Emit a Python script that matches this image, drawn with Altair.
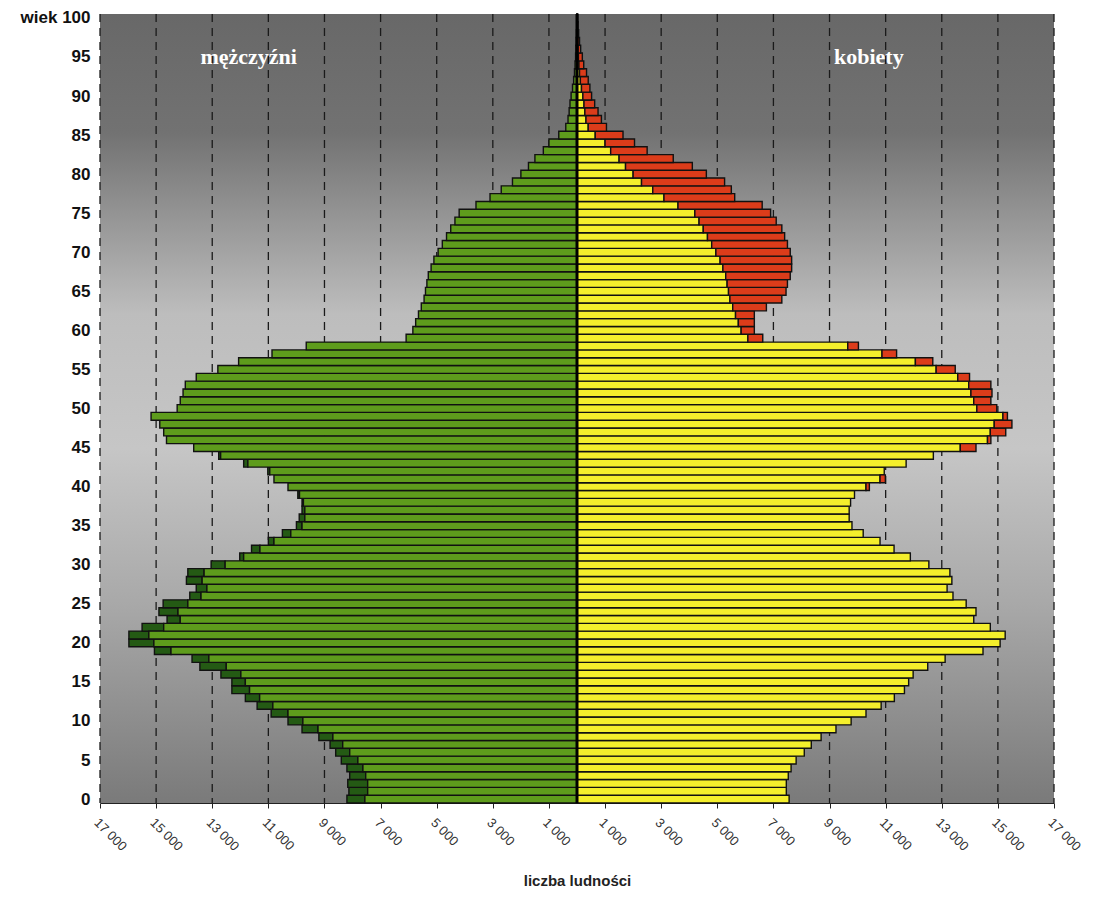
import altair as alt
import pandas as pd

ages = list(range(101))

men = [
    8200, 8130, 8170, 8100, 8200, 8400, 8600, 8800, 9200, 9800,
    10300, 10900, 11400, 11820, 12300, 12300, 12690, 13440, 13720, 15060,
    15970, 15970, 15500, 14610, 14900, 14750, 13800, 13570, 13920, 13870,
    13040, 12020, 11600, 11000, 10500, 10000, 9900, 9800, 9800, 9950,
    10300, 10800, 11020, 11880, 12770, 13660, 14630, 14730, 14870, 15180,
    14250, 14140, 14040, 13960, 13570, 12800, 12060, 10870, 9650, 6090,
    5850, 5750, 5650, 5550, 5450, 5400, 5350, 5300, 5200, 5100,
    4950, 4800, 4650, 4500, 4350, 4200, 3600, 3100, 2700, 2300,
    2000, 1730, 1500, 1200, 1000, 650, 400, 320, 280, 250,
    210, 160, 120, 90, 70, 50, 40, 30, 20, 10, 10,
]

women = [
    7560, 7460, 7460, 7530, 7630, 7810, 8100, 8350, 8700, 9230,
    9770, 10300, 10840, 11310, 11670, 11820, 11980, 12500, 13120, 14470,
    15080, 15260, 14730, 14140, 14220, 13870, 13400, 13190, 13360, 13290,
    12540, 11880, 11300, 10800, 10200, 9800, 9700, 9700, 9750, 9890,
    10420, 10990, 10950, 11730, 12700, 14220, 14750, 15280, 15500, 15340,
    14960, 14750, 14790, 14750, 13990, 13480, 12680, 11390, 10030, 6620,
    6320, 6320, 6320, 6750, 7300, 7450, 7500, 7600, 7650, 7650,
    7600, 7500, 7400, 7300, 7100, 6900, 6600, 5620, 5500, 5260,
    4610, 4110, 3430, 2500, 2050, 1640, 1050, 870, 750, 630,
    520, 460, 400, 340, 240, 190, 130, 90, 60, 40, 30,
]

tick_values = [-17000, -15000, -13000, -11000, -9000, -7000, -5000, -3000, -1000,
               1000, 3000, 5000, 7000, 9000, 11000, 13000, 15000, 17000]
age_ticks = list(range(0, 101, 5))

side_labels = ["mężczyźni", "kobiety"]
side_label_x = [-11700, 10400]
side_label_age = [95, 95]

rows = []
for a, m, f in zip(ages, men, women):
    c = min(m, f)
    rows.append(dict(age=a, lo=a - 0.5, hi=a + 0.5,
                     men_neg=-m, common_neg=-c, common=c, women=f))
df = pd.DataFrame(rows)

xscale = alt.Scale(domain=[-17000, 17000], nice=False, zero=False)
yscale = alt.Scale(domain=[-0.5, 100.5], nice=False, zero=False)

xaxis = alt.Axis(
    values=tick_values, grid=False,
    labelExpr="replace(format(abs(datum.value), ','), ',', ' ')",
    labelAngle=45, labelAlign="left", labelBaseline="top",
    labelFont="Liberation Sans", labelFontSize=13, labelColor="#333333",
    labelPadding=8, tickColor="#222222", tickSize=5, domainColor="#222222",
    title="liczba ludności", titleFont="Liberation Sans", titleFontSize=15,
    titleFontWeight="bold", titleColor="#222222", titlePadding=20,
)
yaxis = alt.Axis(
    values=age_ticks, grid=False, domain=False, ticks=False,
    labelExpr="datum.value == 100 ? 'wiek 100' : datum.label",
    labelFont="Liberation Sans", labelFontSize=17, labelFontWeight="bold",
    labelColor="#111111", labelPadding=10, title=None,
)

background = alt.Chart(pd.DataFrame({"k": [0]})).mark_rect(
    color=alt.LinearGradient(
        gradient="linear", x1=0, x2=0, y1=0, y2=1,
        stops=[
            alt.GradientStop(color="#686868", offset=0),
            alt.GradientStop(color="#727272", offset=0.15),
            alt.GradientStop(color="#bdbdbd", offset=0.38),
            alt.GradientStop(color="#c6c6c6", offset=0.55),
            alt.GradientStop(color="#a8a8a8", offset=0.75),
            alt.GradientStop(color="#7a7a7a", offset=1),
        ],
    )
).encode(x=alt.value(0), x2=alt.value("width"), y=alt.value(0), y2=alt.value("height"))

grid = alt.Chart(pd.DataFrame({"t": tick_values})).mark_rule(
    color="#1a1a1a", strokeWidth=1.3, strokeDash=[8, 6]
).encode(x=alt.X("t:Q", scale=xscale, axis=xaxis))

base = alt.Chart(df)
stroke = dict(stroke="#111111", strokeWidth=1.4)

y_enc = alt.Y("lo:Q", scale=yscale, axis=yaxis)

dark_green = base.transform_filter("datum.men_neg < datum.common_neg").mark_bar(
    color="#245a14", **stroke
).encode(x=alt.X("men_neg:Q", scale=xscale, axis=xaxis), x2="common_neg:Q", y=y_enc, y2="hi:Q")

light_green = base.mark_bar(color="#5e9c1c", **stroke).encode(
    x=alt.X("common_neg:Q", scale=xscale, axis=xaxis), x2=alt.datum(0), y=y_enc, y2="hi:Q")

yellow = base.mark_bar(color="#f4ef2c", **stroke).encode(
    x=alt.X("common:Q", scale=xscale, axis=xaxis), x2=alt.datum(0), y=y_enc, y2="hi:Q")

red = base.transform_filter("datum.women > datum.common").mark_bar(
    color="#dc3c1a", **stroke
).encode(x=alt.X("common:Q", scale=xscale, axis=xaxis), x2="women:Q", y=y_enc, y2="hi:Q")

center = alt.Chart(pd.DataFrame({"c": [0]})).mark_rule(color="#000000", strokeWidth=3).encode(
    x=alt.X("c:Q", scale=xscale, axis=xaxis))

labels = alt.Chart(pd.DataFrame({"label": side_labels, "x": side_label_x, "age": side_label_age})).mark_text(
    font="Liberation Serif", fontSize=22, fontWeight="bold", color="#ffffff", align="center", baseline="middle"
).encode(x=alt.X("x:Q", scale=xscale, axis=xaxis), y=alt.Y("age:Q", scale=yscale, axis=yaxis), text="label:N")

chart = alt.layer(background, grid, dark_green, light_green, yellow, red, center, labels).properties(
    width=954, height=789, padding={"left": 12, "top": 0, "right": 5, "bottom": 5}
).configure_view(strokeWidth=0)

chart.save("out.html", embed_options={"renderer": "svg", "actions": False})
